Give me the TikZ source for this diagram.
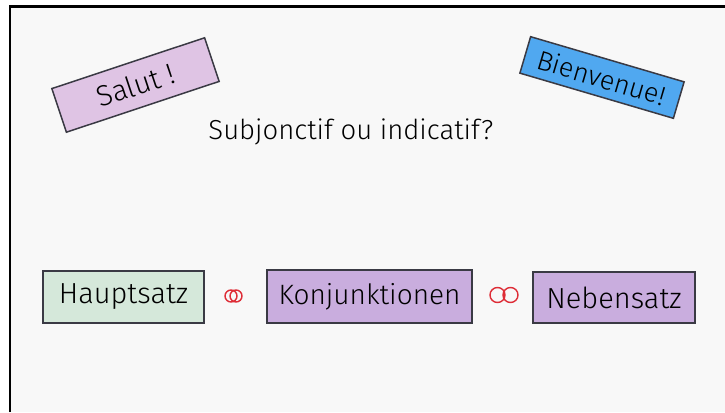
\documentclass[tikz,border=0pt]{standalone}
\usepackage{fontspec}
\setmainfont{Fira Sans}[UprightFont=* Light]
\definecolor{board}{RGB}{248,248,248}
\definecolor{edgegray}{RGB}{58,58,68}
\definecolor{lilac}{RGB}{223,196,228}
\definecolor{skyblue}{RGB}{80,168,240}
\definecolor{mint}{RGB}{213,232,218}
\definecolor{violet}{RGB}{201,173,222}
\definecolor{ringred}{RGB}{222,45,55}
\tikzset{
  card/.style={draw=edgegray,line width=1.5pt,inner sep=0pt,
    font=\fontsize{29}{32}\selectfont},
  ringline/.style={draw=ringred,line width=1.4pt}
}
\begin{document}
\begin{tikzpicture}[x=1pt,y=-1pt]

        \useasboundingbox (0,0) rectangle (725,412);
        \fill[board] (10,6.5) rectangle (725,412);
        \draw[line width=2.5pt] (10,412) -- (10,6.5) -- (725,6.5);

        \begin{scope}[every node/.style={card}]
          \node[fill=lilac,rotate=18.4,minimum width=161,minimum height=46]
            (salut) at (135.5,85) {Salut !};
          \node[fill=skyblue,rotate=-16.4,minimum width=160,minimum height=38,
            font=\fontsize{27}{30}\selectfont]
            (bienvenue) at (602,77.5) {Bienvenue!};
          \node[fill=mint,minimum width=161,minimum height=52]
            (haupt) at (123.5,297) {Hauptsatz};
          \node[fill=violet,minimum width=205,minimum height=53,
            font=\fontsize{28}{30}\selectfont]
            (konj) at (369.5,296.5) {Konjunktionen};
          \node[fill=violet,minimum width=162,minimum height=51]
            (neben) at (614,297.5) {Nebensatz};
        \end{scope}

        \node[font=\fontsize{27.5}{30}\selectfont,anchor=base]
          (frage) at (351,139) {Subjonctif ou indicatif?};

        % Ringe zwischen den Satzteilen
        \coordinate (r1) at (233.5,296);
        \coordinate (r2) at (504,295);
        \draw[ringline] (r1) ++(-2.5,0) circle (6) (r1) ++(2.5,0) circle (6);
        \draw[ringline] (r2) ++(-6.5,0) circle (7.5) (r2) ++(6.5,0) circle (7.5);

      \end{tikzpicture}
\end{document}
